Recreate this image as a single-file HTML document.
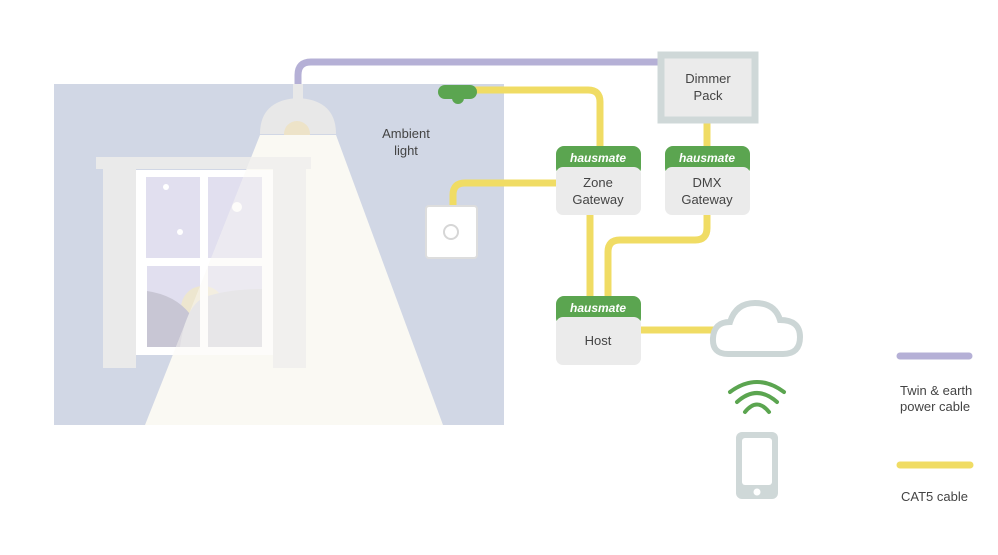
<!DOCTYPE html>
<html><head><meta charset="utf-8"><style>
html,body{margin:0;padding:0;background:#fff;}
svg{display:block;}
text{font-family:"Liberation Sans","DejaVu Sans",sans-serif;fill:#444;}
</style></head><body>
<svg width="998" height="555" viewBox="0 0 998 555" xmlns="http://www.w3.org/2000/svg">
<defs>
<g id="win">
<rect x="96" y="157" width="215" height="12" fill="#eaeaea"/>
<rect x="103" y="169" width="33" height="199" fill="#eaeaea"/>
<rect x="273" y="169" width="33" height="199" fill="#eaeaea"/>
<rect x="136" y="170" width="137" height="185" fill="#fff"/>
<rect x="146" y="177" width="54" height="81" fill="#e1dfef"/>
<rect x="208" y="177" width="54" height="81" fill="#e1dfef"/>
<rect x="147" y="266" width="53" height="81" fill="#e1dfef"/>
<rect x="208" y="266" width="54" height="81" fill="#e1dfef"/>
<g clip-path="url(#lp)">
<circle cx="203" cy="308" r="22" fill="#ede6cf"/>
<path d="M147 291 Q175 295 190 314 Q195 330 190 347 H147Z" fill="#c8c6d4"/>
<path d="M180 347 Q186 302 208 296 Q230 289 262 289 V347 Z" fill="#d8d7df"/>
</g>
<circle cx="166" cy="187" r="3" fill="#fff"/>
<circle cx="180" cy="232" r="3" fill="#fff"/>
<circle cx="237" cy="207" r="5" fill="#fff"/>
</g>
<clipPath id="lp"><rect x="147" y="266" width="53" height="81"/><rect x="208" y="266" width="54" height="81"/></clipPath>
<clipPath id="cone"><polygon points="260,135 336,135 443,425 145,425"/></clipPath>
</defs>
<rect x="54" y="84" width="450" height="341" fill="#d1d7e5"/>
<path d="M298 100 V75 Q298 62 311 62 H660" fill="none" stroke="#b5b0d6" stroke-width="7"/>
<use href="#win"/>
<rect x="293" y="84" width="10" height="16" fill="#e8e8e8"/>
<path d="M260 134 Q260 100 298 98 Q336 100 336 134 Z" fill="#e8e8e8"/>
<circle cx="297" cy="134" r="13" fill="#ede3c8"/>
<polygon points="260,135 336,135 443,425 145,425" fill="#faf9f3"/>
<g clip-path="url(#cone)" opacity="0.55"><use href="#win"/></g>
<text x="406" y="138" font-size="13" text-anchor="middle">Ambient</text>
<text x="406" y="155" font-size="13" text-anchor="middle">light</text>
<g fill="none" stroke="#f0dc64" stroke-width="7">
<path d="M470 90 H588 Q600 90 600 102 V148"/>
<path d="M453 207 V195 Q453 183 465 183 H558"/>
<path d="M707 122 V148"/>
<path d="M590 214 V298"/>
<path d="M707 214 V228 Q707 240 695 240 H620 Q608 240 608 252 V298"/>
<path d="M640 330 H714"/>
</g>
<rect x="438" y="85" width="39" height="14" rx="7" fill="#5ba550"/>
<circle cx="458" cy="98" r="6" fill="#5ba550"/>
<rect x="426" y="206" width="51" height="52" rx="3" fill="#fff" stroke="#ddd" stroke-width="2"/>
<circle cx="451" cy="232" r="7" fill="none" stroke="#d6d6d6" stroke-width="2"/>
<rect x="661" y="55" width="94" height="65" fill="#ebebeb" stroke="#cfd8d8" stroke-width="7"/>
<text x="708" y="83" font-size="13" text-anchor="middle">Dimmer</text>
<text x="708" y="100" font-size="13" text-anchor="middle">Pack</text>
<g>
<rect x="556" y="146" width="85" height="30" rx="8" fill="#5ba550"/>
<rect x="556" y="167" width="85" height="48" rx="7" fill="#ebebeb"/>
<text x="598" y="162" font-size="12" font-weight="bold" font-style="italic" text-anchor="middle" style="fill:#fff">hausmate</text>
<text x="598" y="187" font-size="13" text-anchor="middle">Zone</text>
<text x="598" y="204" font-size="13" text-anchor="middle">Gateway</text>
</g>
<g>
<rect x="665" y="146" width="85" height="30" rx="8" fill="#5ba550"/>
<rect x="665" y="167" width="85" height="48" rx="7" fill="#ebebeb"/>
<text x="707" y="162" font-size="12" font-weight="bold" font-style="italic" text-anchor="middle" style="fill:#fff">hausmate</text>
<text x="707" y="187" font-size="13" text-anchor="middle">DMX</text>
<text x="707" y="204" font-size="13" text-anchor="middle">Gateway</text>
</g>
<g>
<rect x="556" y="296" width="85" height="30" rx="8" fill="#5ba550"/>
<rect x="556" y="317" width="85" height="48" rx="7" fill="#ebebeb"/>
<text x="598" y="312" font-size="12" font-weight="bold" font-style="italic" text-anchor="middle" style="fill:#fff">hausmate</text>
<text x="598" y="345" font-size="13" text-anchor="middle">Host</text>
</g>
<path d="M728 354 Q712 354 713 338 Q714 322 730 322 Q736 303 755 303 Q775 303 780 320 Q800 320 800 337 Q800 354 783 354 Z" fill="#fff" stroke="#ccd6d6" stroke-width="6"/>
<g fill="none" stroke="#5ba550" stroke-width="4" stroke-linecap="round">
<path d="M730 392 Q757 372 784 392"/>
<path d="M737 402 Q757 384 777 402"/>
<path d="M745 412 Q757 397 769 412"/>
</g>
<rect x="736" y="432" width="42" height="67" rx="6" fill="#cfd8d8"/>
<rect x="742" y="438" width="30" height="47" rx="3" fill="#fff"/>
<circle cx="757" cy="492" r="3.5" fill="#fff"/>
<line x1="900" y1="356" x2="969" y2="356" stroke="#b5b0d6" stroke-width="7" stroke-linecap="round"/>
<text x="900" y="395" font-size="13">Twin &amp; earth</text>
<text x="900" y="411" font-size="13">power cable</text>
<line x1="900" y1="465" x2="970" y2="465" stroke="#f0dc64" stroke-width="7" stroke-linecap="round"/>
<text x="901" y="501" font-size="13">CAT5 cable</text>
</svg>
</body></html>
